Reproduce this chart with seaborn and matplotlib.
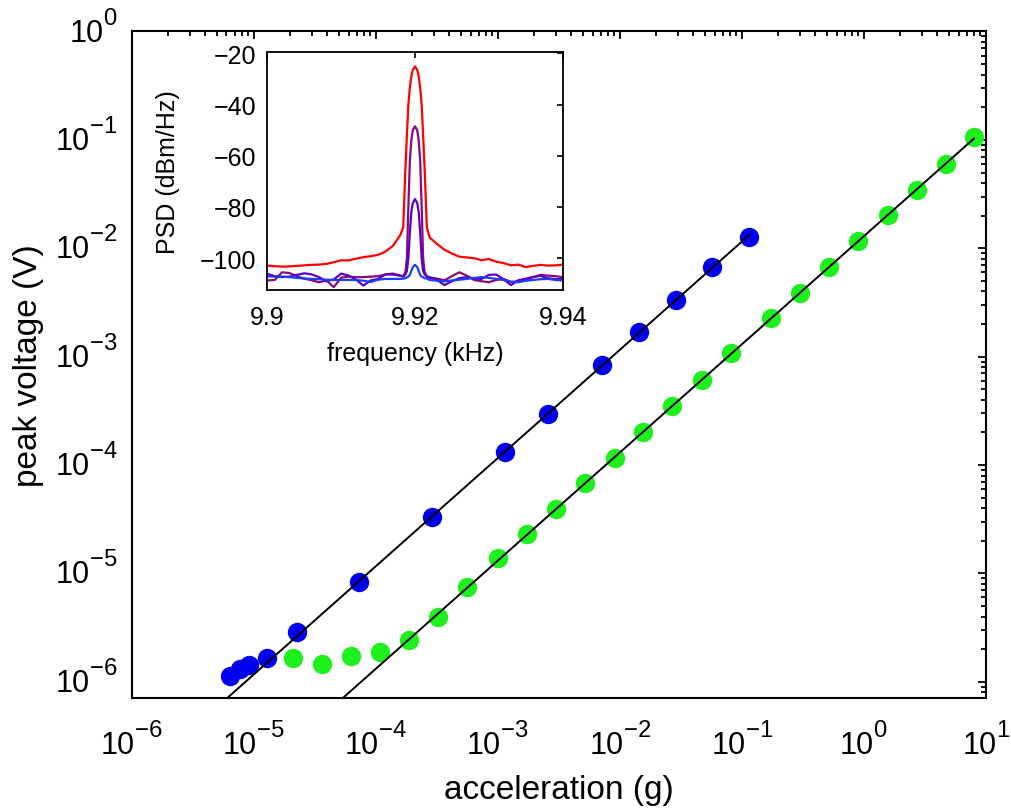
import numpy as np
import pandas as pd
import matplotlib
matplotlib.use("Agg")
import matplotlib.pyplot as plt
import matplotlib.transforms as mtransforms
import seaborn as sns

# --- main panel: peak voltage vs acceleration ---
accel_blue = [6.43e-6, 7.76e-6, 9.2e-6, 1.30e-5, 2.29e-5, 7.26e-5, 2.90e-4,
              1.143e-3, 2.57e-3, 7.19e-3, 1.439e-2, 2.89e-2, 5.75e-2, 0.1156]
volt_blue = [1.14e-6, 1.31e-6, 1.43e-6, 1.66e-6, 2.87e-6, 8.4e-6, 3.32e-5,
             1.33e-4, 2.96e-4, 8.38e-4, 1.68e-3, 3.34e-3, 6.73e-3, 1.28e-2]

accel_green = [2.10e-5, 3.63e-5, 6.28e-5, 1.094e-4, 1.88e-4, 3.25e-4, 5.62e-4,
               1.009e-3, 1.745e-3, 3.03e-3, 5.22e-3, 9.09e-3, 1.563e-2, 2.70e-2,
               4.70e-2, 8.12e-2, 0.1754, 0.303, 0.524, 0.906, 1.567, 2.73, 4.72, 8.05]
volt_green = [1.65e-6, 1.46e-6, 1.75e-6, 1.88e-6, 2.45e-6, 4.0e-6, 7.55e-6,
              1.38e-5, 2.30e-5, 3.96e-5, 6.84e-5, 1.17e-4, 2.00e-4, 3.53e-4,
              6.10e-4, 1.075e-3, 2.26e-3, 3.87e-3, 6.72e-3, 1.168e-2, 2.03e-2,
              3.45e-2, 5.99e-2, 0.1057]

# points above the noise floor used for the linear fits
fit_min_blue = 5e-5
fit_min_green = 3e-4

# --- inset: PSD spectra around the drive tone ---
freq_khz = [9.900, 9.901, 9.902, 9.903, 9.904, 9.905, 9.906, 9.907, 9.908, 9.909,
            9.910, 9.911, 9.912, 9.913, 9.914, 9.915, 9.916, 9.917, 9.918,
            9.9184, 9.9187, 9.9189, 9.9191, 9.9193, 9.9195, 9.9197, 9.9200,
            9.9203, 9.9205, 9.9207, 9.9209, 9.9211, 9.9213, 9.9216,
            9.922, 9.923, 9.924, 9.925, 9.926, 9.927, 9.928, 9.929, 9.930,
            9.931, 9.932, 9.933, 9.934, 9.935, 9.936, 9.937, 9.938, 9.939, 9.940]
psd_red = [-102.9, -103.1, -103.3, -103.2, -103.0, -102.8, -102.6, -102.5, -102.2, -101.6,
           -100.8, -100.9, -100.2, -99.6, -99.2, -98.7, -97.4, -95.2, -91.0,
           -88.0, -65.0, -52.0, -40.0, -33.5, -29.0, -26.5, -25.1,
           -26.5, -29.0, -33.5, -40.0, -52.0, -65.0, -88.0,
           -92.0, -94.5, -96.7, -98.2, -99.4, -99.7, -100.0, -100.8, -100.3,
           -101.4, -101.9, -102.8, -102.5, -103.5, -103.0, -102.6, -102.9, -102.8, -102.5]
psd_purple = [-108.7, -108.5, -105.5, -105.8, -107.0, -108.0, -108.6, -109.4, -108.7, -111.3,
              -107.6, -107.2, -107.4, -107.4, -107.2, -107.0, -106.4, -106.0, -106.8,
              -107.0, -105.5, -100.0, -80.0, -62.0, -54.0, -50.0, -48.5,
              -50.0, -54.0, -62.0, -80.0, -100.0, -105.5, -107.0,
              -107.5, -108.0, -108.6, -107.0, -105.5, -106.8, -108.5, -109.0, -109.4,
              -108.5, -108.1, -109.3, -109.0, -108.7, -107.4, -106.5, -106.8, -107.0, -107.4]
psd_violet = [-106.1, -107.0, -107.4, -107.2, -106.5, -105.9, -106.3, -107.4, -109.0, -108.3,
              -106.0, -106.8, -108.3, -110.7, -108.7, -108.1, -106.3, -106.4, -106.8,
              -107.2, -106.3, -105.0, -100.0, -90.0, -82.0, -78.5, -76.9,
              -78.5, -82.0, -90.0, -100.0, -105.0, -106.3, -107.2,
              -107.6, -108.5, -110.5, -109.0, -107.8, -107.4, -107.9, -108.1, -106.5,
              -106.4, -108.3, -110.5, -108.6, -108.0, -107.3, -106.9, -107.8, -108.2, -108.1]
psd_blue = [-107.1, -107.2, -107.2, -107.4, -107.7, -107.9, -108.1, -108.2, -108.4, -108.5,
            -108.5, -108.5, -108.5, -108.8, -109.3, -108.4, -108.1, -108.1, -108.1,
            -108.0, -107.8, -107.5, -107.2, -106.5, -105.0, -103.5, -102.6,
            -103.5, -105.0, -106.5, -107.2, -107.5, -107.8, -108.0,
            -108.5, -108.8, -109.0, -108.7, -108.4, -108.1, -107.7, -107.4, -107.7,
            -108.1, -108.5, -109.2, -109.4, -108.8, -108.5, -108.2, -108.1, -108.5, -108.7]
psd_colors = ['#ff0000', '#8a0a78', '#5a00c8', '#1e3cff']

sns.set_theme(style="white")
plt.rcParams['font.family'] = ['Liberation Sans', 'DejaVu Sans']
plt.rcParams['mathtext.fontset'] = 'custom'
plt.rcParams['mathtext.rm'] = 'Liberation Sans'
plt.rcParams['mathtext.it'] = 'Liberation Sans:italic'
plt.rcParams['axes.unicode_minus'] = True
plt.rcParams['text.color'] = 'black'
plt.rcParams['axes.labelcolor'] = 'black'
plt.rcParams['xtick.color'] = 'black'
plt.rcParams['ytick.color'] = 'black'

# MATLAB-style exponents: a bit larger and raised higher than mathtext default
try:
    import matplotlib._mathtext as _mt
    _mt.FontConstantsBase.sup1 = 1.0
    _mt.SHRINK_FACTOR = 0.78
except Exception:
    pass

fig = plt.figure(figsize=(10.11, 8.12), dpi=100)
ax = fig.add_axes([0.1301, 0.1392, 0.8449, 0.8208])

df_blue = pd.DataFrame({'accel': accel_blue, 'volt': volt_blue})
df_green = pd.DataFrame({'accel': accel_green, 'volt': volt_green})

sns.scatterplot(data=df_blue, x='accel', y='volt', color='#0000ee', s=195,
                linewidth=0, ax=ax, zorder=2, legend=False)
sns.scatterplot(data=df_green, x='accel', y='volt', color='#1ef01e', s=195,
                linewidth=0, ax=ax, zorder=2, legend=False)

ax.set_xscale('log')
ax.set_yscale('log')
ax.set_xlim(1e-6, 1e1)
ax.set_ylim(7.1e-7, 1e0)

# linear fits (slope ~1 in log-log) drawn from the low edge up to the last point
for df, amin in [(df_blue, fit_min_blue), (df_green, fit_min_green)]:
    sel = df[df['accel'] > amin]
    p = np.polyfit(np.log10(sel['accel']), np.log10(sel['volt']), 1)
    xs = np.array([ax.get_xlim()[0], df['accel'].max()])
    fit = pd.DataFrame({'accel': xs, 'volt': 10 ** np.polyval(p, np.log10(xs))})
    sns.lineplot(data=fit, x='accel', y='volt', color='black', linewidth=1.4,
                 ax=ax, zorder=3, estimator=None)

ax.set_xticks([10.0 ** k for k in range(-6, 2)])
ax.set_yticks([10.0 ** k for k in range(-6, 1)])
ax.tick_params(which='both', direction='in', top=True, right=True, width=1.3,
               colors='black')
ax.tick_params(which='major', length=6, labelsize=22)
ax.tick_params(axis='x', which='major', pad=18)
ax.tick_params(axis='y', which='major', pad=10)
ax.tick_params(which='minor', length=3.5)
for sp in ax.spines.values():
    sp.set_linewidth(1.5)
    sp.set_color('black')
ax.set_xlabel('acceleration (g)', fontsize=24, labelpad=9)
ax.set_ylabel('peak voltage (V)', fontsize=24, labelpad=8)

# keep the "10" of the y labels centred on the tick, exponent sticking up
shift_up = mtransforms.ScaledTranslation(0, 4 / 72, fig.dpi_scale_trans)
for lab in ax.get_yticklabels():
    lab.set_transform(lab.get_transform() + shift_up)

# inset
axin = fig.add_axes([0.2644, 0.642, 0.2922, 0.2924])
spec = pd.DataFrame({'freq': freq_khz * 4,
                     'psd': psd_red + psd_purple + psd_violet + psd_blue,
                     'trace': ['r'] * len(freq_khz) + ['p'] * len(freq_khz)
                              + ['v'] * len(freq_khz) + ['b'] * len(freq_khz)})
for name, col in zip(['p', 'v', 'b', 'r'], [psd_colors[1], psd_colors[2], psd_colors[3], psd_colors[0]]):
    sns.lineplot(data=spec[spec['trace'] == name], x='freq', y='psd', color=col,
                 linewidth=1.6, ax=axin, estimator=None, sort=False)
axin.set_xlim(9.9, 9.94)
axin.set_ylim(-112.3, -19.6)
axin.set_xticks([9.9, 9.92, 9.94])
axin.set_xticklabels(['9.9', '9.92', '9.94'])
axin.set_yticks([-100, -80, -60, -40, -20])
axin.tick_params(which='both', direction='in', top=True, right=True, width=1.2,
                 length=4.5, labelsize=18, colors='black')
axin.tick_params(axis='x', pad=11)
axin.tick_params(axis='y', pad=8)
for sp in axin.spines.values():
    sp.set_linewidth(1.3)
    sp.set_color('black')
axin.set_xlabel('frequency (kHz)', fontsize=18, labelpad=9)
axin.set_ylabel('PSD (dBm/Hz)', fontsize=18, labelpad=14)

fig.savefig('out.png', dpi=100)
